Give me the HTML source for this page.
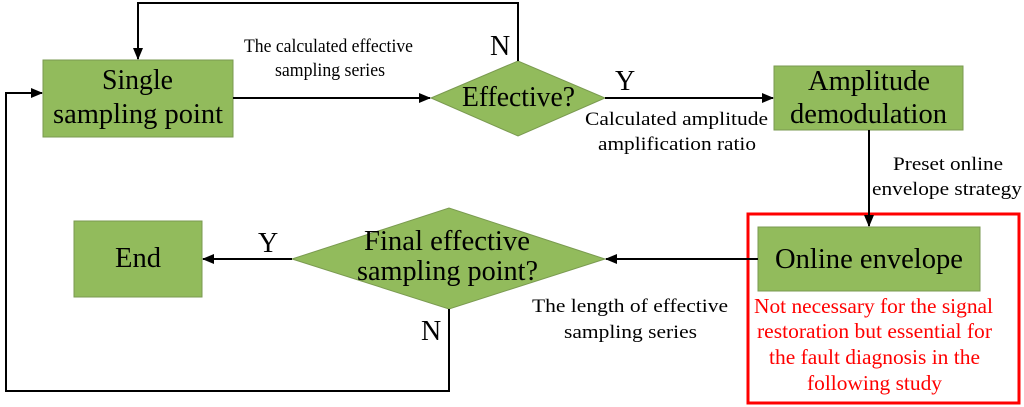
<!DOCTYPE html>
<html><head><style>
body{margin:0;background:#fff;}
svg{display:block;font-family:"Liberation Serif",serif;}
</style></head><body>
<svg width="1024" height="407" viewBox="0 0 1024 407" xmlns="http://www.w3.org/2000/svg">
<defs><marker id="a" markerWidth="12" markerHeight="10" refX="11" refY="5" orient="auto" markerUnits="userSpaceOnUse"><path d="M0,0 L12,5 L0,10 z" fill="#000"/></marker></defs>
<g fill="#92bb5c" stroke="#7a9a50" stroke-width="1">
<rect x="43" y="60" width="190" height="77"/>
<polygon points="431,98 518,61 605,98 518,136"/>
<rect x="774" y="66" width="189" height="64"/>
<rect x="758" y="227" width="222" height="64"/>
<polygon points="292,259 449,208 605,259 449,309"/>
<rect x="74" y="221" width="128" height="76"/>
</g>
<rect x="748" y="214" width="271" height="189" fill="none" stroke="#f00" stroke-width="3"/>
<g stroke="#000" stroke-width="2" fill="none">
<line x1="233" y1="98" x2="430" y2="98" marker-end="url(#a)"/>
<polyline points="518,61 518,3 138,3 138,59" marker-end="url(#a)"/>
<line x1="605" y1="98" x2="773" y2="98" marker-end="url(#a)"/>
<line x1="869" y1="130" x2="869" y2="226" marker-end="url(#a)"/>
<line x1="758" y1="259" x2="606" y2="259" marker-end="url(#a)"/>
<line x1="292" y1="259" x2="203" y2="259" marker-end="url(#a)"/>
<polyline points="449,309 449,391 6,391 6,93 42,93" marker-end="url(#a)"/>
</g>
<g font-size="28" fill="#000" lengthAdjust="spacingAndGlyphs">
<text x="102" y="89" textLength="71" lengthAdjust="spacingAndGlyphs">Single</text>
<text x="53" y="123" textLength="170" lengthAdjust="spacingAndGlyphs">sampling point</text>
<text x="462" y="106" textLength="113" lengthAdjust="spacingAndGlyphs">Effective?</text>
<text x="808" y="90" textLength="122" lengthAdjust="spacingAndGlyphs">Amplitude</text>
<text x="790" y="123" textLength="157" lengthAdjust="spacingAndGlyphs">demodulation</text>
<text x="775" y="268" textLength="188" lengthAdjust="spacingAndGlyphs">Online envelope</text>
<text x="364" y="250" textLength="166" lengthAdjust="spacingAndGlyphs">Final effective</text>
<text x="357" y="280" textLength="181" lengthAdjust="spacingAndGlyphs">sampling point?</text>
<text x="115" y="267" textLength="46" lengthAdjust="spacingAndGlyphs">End</text>
<text x="490" y="55">N</text>
<text x="615" y="90">Y</text>
<text x="258" y="252">Y</text>
<text x="421" y="340">N</text>
</g>
<g font-size="19" fill="#000">
<text x="244" y="52" textLength="169" lengthAdjust="spacingAndGlyphs">The calculated effective</text>
<text x="275" y="76" textLength="110" lengthAdjust="spacingAndGlyphs">sampling series</text>
<text x="585" y="125" textLength="183" lengthAdjust="spacingAndGlyphs">Calculated amplitude</text>
<text x="598" y="150" textLength="158" lengthAdjust="spacingAndGlyphs">amplification ratio</text>
<text x="893" y="170" textLength="110" lengthAdjust="spacingAndGlyphs">Preset online</text>
<text x="872" y="195" textLength="150" lengthAdjust="spacingAndGlyphs">envelope strategy</text>
<text x="532" y="312" textLength="196" lengthAdjust="spacingAndGlyphs">The length of effective</text>
<text x="564" y="338" textLength="133" lengthAdjust="spacingAndGlyphs">sampling series</text>
</g>
<g font-size="21" fill="#f00">
<text x="754" y="313" textLength="239" lengthAdjust="spacingAndGlyphs">Not necessary for the signal</text>
<text x="757" y="338" textLength="235" lengthAdjust="spacingAndGlyphs">restoration but essential for</text>
<text x="769" y="364" textLength="211" lengthAdjust="spacingAndGlyphs">the fault diagnosis in the</text>
<text x="807" y="390" textLength="135" lengthAdjust="spacingAndGlyphs">following study</text>
</g>
</svg>
</body></html>
